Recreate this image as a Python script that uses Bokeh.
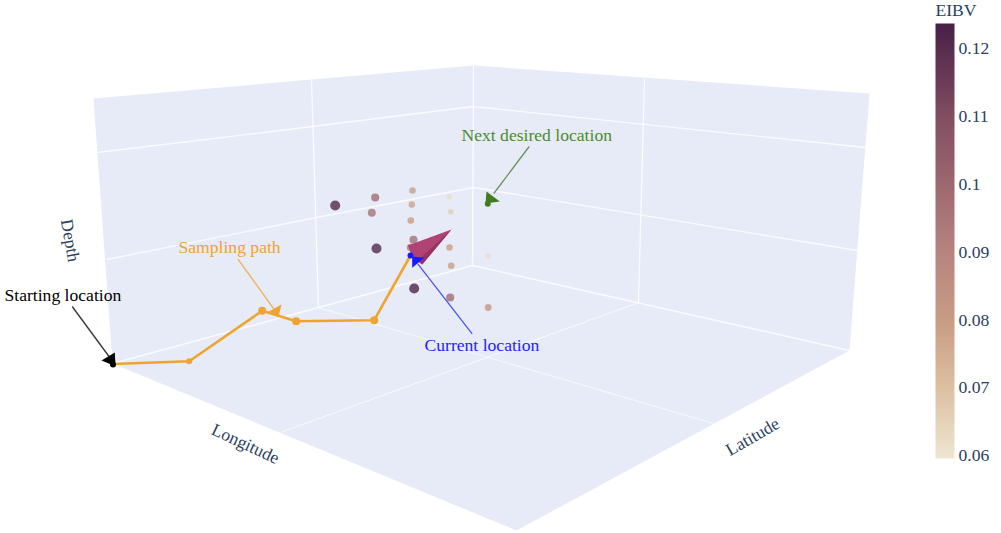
import numpy as np
from bokeh.embed import file_html
from bokeh.resources import INLINE
from bokeh.plotting import figure
from bokeh.models import Range1d, ColumnDataSource, LinearColorMapper, ColorBar, FixedTicker
from bokeh.core.properties import value

# projected scene
left_wall_x = [93, 473, 472, 112]
left_wall_y = [98, 65, 265, 363]
right_wall_x = [473, 869, 849, 472]
right_wall_y = [65, 93, 350, 265]
floor_x = [112, 472, 849, 516]
floor_y = [363, 265, 350, 530]

grid_xs = [[97, 312, 473, 865], [106, 316, 473, 857], [112, 318, 472, 849],
           [473, 472], [311, 318], [644, 638]]
grid_ys = [[152, 126, 106, 147], [259, 217, 187, 250], [363, 307, 265, 350],
           [65, 265], [79, 307], [78, 302]]
floor_grid_xs = [[318, 713], [638, 280]]
floor_grid_ys = [[307, 423], [302, 432]]

eibv_x = [334.7, 374.7, 371.3, 412, 411.3, 410.3, 448.7, 450.3, 376, 413, 410, 449, 450.7, 487.7, 413.7, 449.7, 487.7]
eibv_y = [205, 197, 212.3, 190, 204, 220, 196.3, 211.3, 248, 239.3, 247, 247, 265.3, 255.3, 288, 297, 307]
eibv_v = [0.121, 0.098, 0.096, 0.079, 0.078, 0.08, 0.062, 0.066, 0.121, 0.097, 0.09, 0.079, 0.079, 0.062, 0.122, 0.098, 0.082]

path_x = [112.5, 188.7, 261.7, 295.7, 373.7, 410]
path_y = [363.5, 360.7, 310.3, 320.7, 319.7, 255]
path_marker_x = [188.7, 261.7, 295.7, 373.7]
path_marker_y = [360.7, 310.3, 320.7, 319.7]

cone_x = [407.3, 451, 421.7, 411.7]
cone_y = [245, 229, 264, 256.7]
cone_shade_x = [451, 421.7, 417, 425]
cone_shade_y = [229, 264, 260, 253]

cbar_low = 0.0596
cbar_high = 0.1237
cbar_ticks = [0.06, 0.07, 0.08, 0.09, 0.1, 0.11, 0.12]
cbar_labels = ["0.06", "0.07", "0.08", "0.09", "0.1", "0.11", "0.12"]
stop_values = [0.0596, 0.07, 0.08, 0.09, 0.10, 0.11, 0.1237]
stop_r = [238, 221, 200, 184, 158, 130, 72]
stop_g = [230, 192, 156, 132, 104, 78, 33]
stop_b = [210, 162, 132, 128, 112, 98, 72]

labels = [
    ("Next desired location", 461, 134, "#4c8a30"),
    ("Sampling path", 178, 246, "#eea42f"),
    ("Starting location", 4, 294, "#000000"),
    ("Current location", 424, 344.5, "#2222ff"),
]
arrows = [
    ([71.7, 110], [306, 358], [114.3, 101, 115], [352, 360, 365.7], "#000000", "#333333"),
    ([237.3, 273.3], [258.3, 308.3], [281, 268.3, 278.3], [304, 311, 315], "#eea42f", "#efb04e"),
    ([528.7, 493.3], [146, 193], [486, 499.3, 485], [191, 201, 203], "#3f7d1f", "#65945a"),
    ([471.7, 417.3], [333.3, 263.3], [411.7, 424, 411.7], [256, 257.3, 267.3], "#1a1aff", "#4a55e8"),
]
anchor_dots = [(112.5, 364, "#000000"), (487.3, 203.3, "#3f7d1f"), (410, 255, "#1a1aff")]

axis_titles = [
    ("Depth", 70, 240, -80),
    ("Longitude", 245, 443, -25),
    ("Latitude", 752, 436, 30),
]

SERIF = value("Liberation Serif")
AXIS_COL = "#2a3f5f"
WALL = "#e6ebf7"
ORANGE = "#eea42f"
FONT = "17.6px"

p = figure(width=1001, height=533, output_backend="svg", toolbar_location=None,
           x_range=Range1d(0, 1001), y_range=Range1d(533, 0),
           min_border=0, outline_line_color=None, background_fill_color="white",
           border_fill_color="white")
p.axis.visible = False
p.grid.visible = False

for xs, ys in ((floor_x, floor_y), (left_wall_x, left_wall_y), (right_wall_x, right_wall_y)):
    p.patch(xs, ys, fill_color=WALL, line_color=None)
p.multi_line(grid_xs, grid_ys, line_color="white", line_width=1.3, line_alpha=0.8)
p.multi_line(floor_grid_xs, floor_grid_ys, line_color="white", line_width=1.1, line_alpha=0.65)

fine = np.linspace(cbar_low, cbar_high, 256)
palette = ["#%02x%02x%02x" % (int(r), int(g), int(b)) for r, g, b in zip(
    np.interp(fine, stop_values, stop_r),
    np.interp(fine, stop_values, stop_g),
    np.interp(fine, stop_values, stop_b))]
mapper = LinearColorMapper(palette=palette, low=cbar_low, high=cbar_high)

sizes = [2 * (2.5 + (v - 0.06) * 41) for v in eibv_v]
src = ColumnDataSource(dict(x=eibv_x, y=eibv_y, v=eibv_v, s=sizes))
p.scatter("x", "y", size="s", source=src, line_color=None, fill_alpha=0.8,
          fill_color={"field": "v", "transform": mapper})

p.line(path_x, path_y, line_color=ORANGE, line_width=2.6, line_join="round")
p.scatter(path_marker_x, path_marker_y, size=[6, 8, 8, 8], fill_color=ORANGE, line_color=None)

p.patch(cone_x, cone_y, fill_color="#b04274", line_color=None)
p.patch(cone_shade_x, cone_shade_y, fill_color="#96345f", line_color=None)

for dx, dy, dc in anchor_dots:
    p.scatter([dx], [dy], size=6, fill_color=dc, line_color=None)
for lx, ly, hx, hy, hc, lc in arrows:
    p.line(lx, ly, line_color=lc, line_width=1.3)
    p.patch(hx, hy, fill_color=hc, line_color=None)

for t, x, y, c in labels:
    p.text([x], [y], text=[t], text_color=c, text_font=SERIF, text_font_size=FONT,
           text_align="left", text_baseline="alphabetic")
for t, x, y, a in axis_titles:
    p.text([x], [y], text=[t], text_color=AXIS_COL, text_font=SERIF, text_font_size=FONT,
           angle=a, angle_units="deg", text_align="center", text_baseline="middle")

p.text([935], [9], text=["EIBV"], text_color=AXIS_COL, text_font=SERIF, text_font_size=FONT,
       text_align="left", text_baseline="alphabetic")

cb = ColorBar(color_mapper=mapper, width=19, height=435, location=(935, 75), padding=0, margin=0,
              ticker=FixedTicker(ticks=cbar_ticks),
              major_label_overrides=dict(zip(cbar_ticks, cbar_labels)),
              major_label_text_font="Liberation Serif", major_label_text_font_size=FONT,
              major_label_text_color=AXIS_COL, major_tick_line_color=None, minor_tick_line_color=None,
              bar_line_color=None, border_line_color=None, background_fill_alpha=0, label_standoff=4)
p.add_layout(cb, "center")

open("out.html", "w").write(file_html(p, INLINE))
